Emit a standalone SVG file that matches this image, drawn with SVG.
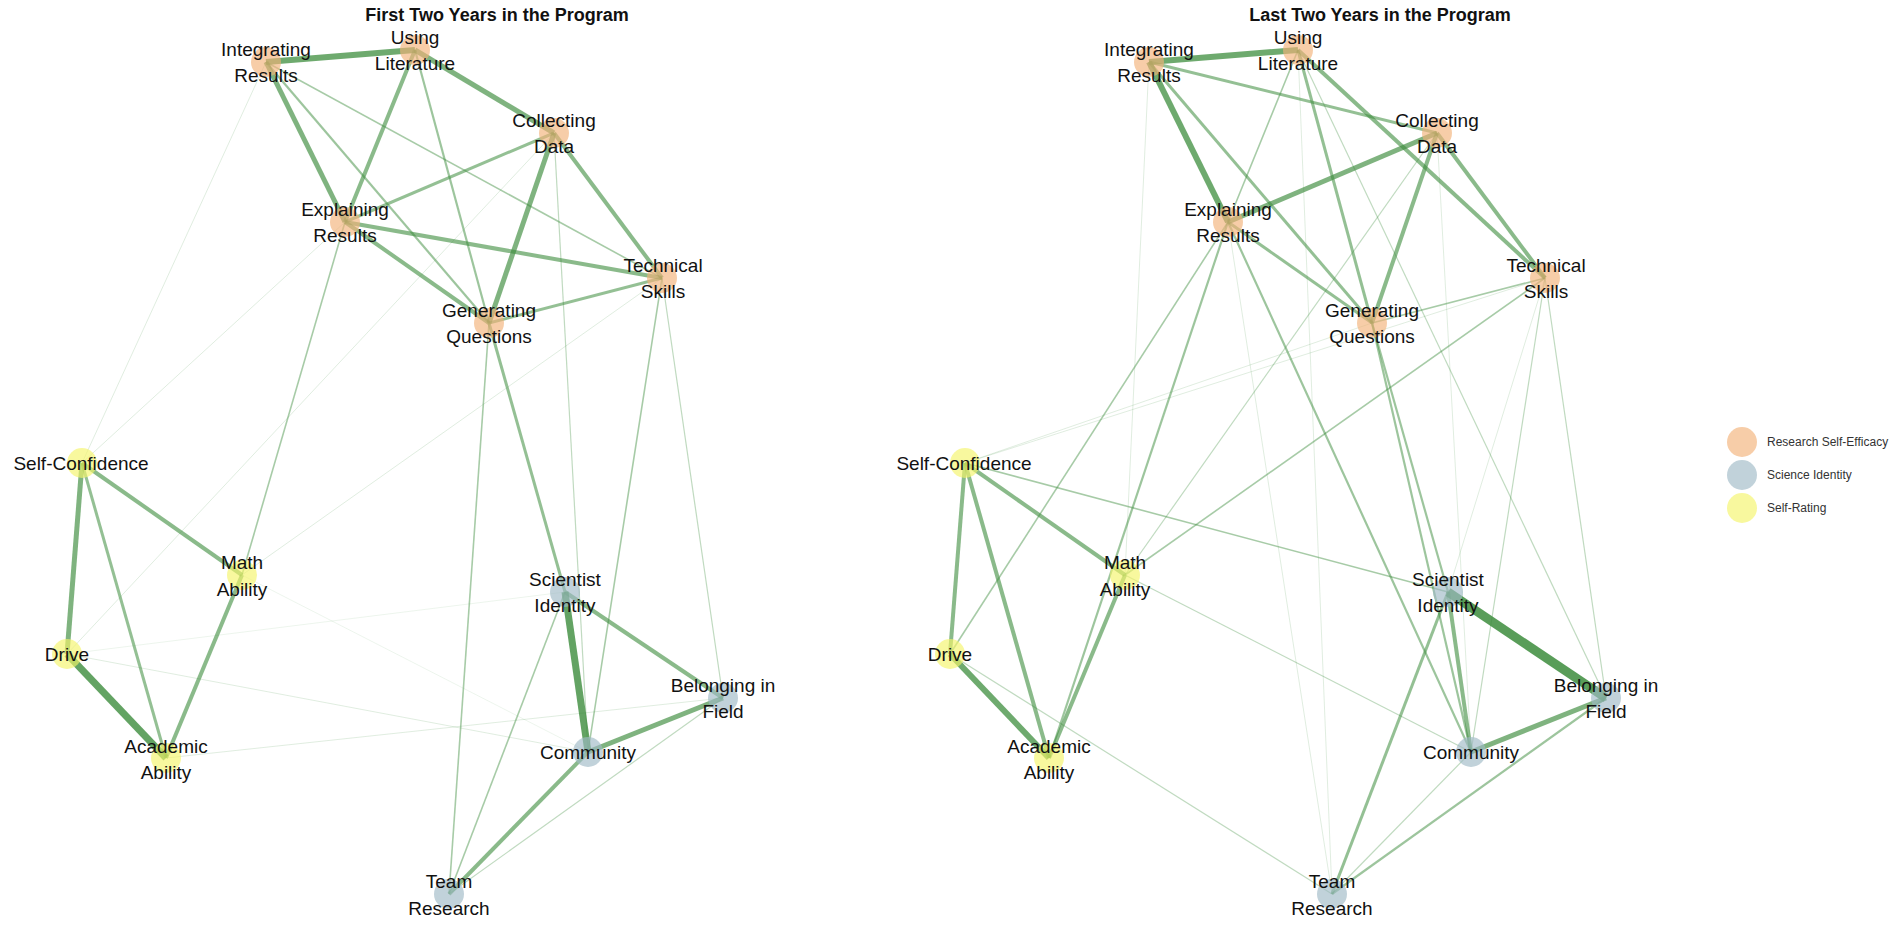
<svg xmlns="http://www.w3.org/2000/svg" width="1902" height="926" viewBox="0 0 1902 926">
<style>
text{font-family:"Liberation Sans",Arial,sans-serif;fill:#111;text-anchor:middle}
.lbl{font-size:19px}
.title{font-size:18px;font-weight:bold}
.leg{font-size:12px;fill:#333;text-anchor:start}
line{stroke:#3c8c3c;stroke-linecap:butt}
.e9{stroke-width:9;stroke-opacity:.85}
.e7{stroke-width:7;stroke-opacity:.8}
.e6{stroke-width:6;stroke-opacity:.74}
.e5{stroke-width:5;stroke-opacity:.66}
.e4{stroke-width:4;stroke-opacity:.6}
.e3{stroke-width:3;stroke-opacity:.55}
.e2{stroke-width:2.2;stroke-opacity:.5}
.e15{stroke-width:1.6;stroke-opacity:.45}
.e1{stroke-width:1.2;stroke-opacity:.32}
.ef{stroke-width:1;stroke-opacity:.16}
.eff{stroke-width:1;stroke-opacity:.09}
.rse circle{fill:#f2b27a;fill-opacity:.65}
.sid circle{fill:#9fbac6;fill-opacity:.65}
.srt circle{fill:#f5f46a;fill-opacity:.65}
</style>
<rect width="1902" height="926" fill="#fff"/>
<text class="title" x="497" y="21">First Two Years in the Program</text>
<text class="title" x="1380" y="21">Last Two Years in the Program</text>
<g id="connectors">
<g id="edges-left">
<line class="e6" x1="266" y1="62" x2="415" y2="50"/>
<line class="e5" x1="415" y1="50" x2="554" y2="133"/>
<line class="e5" x1="266" y1="62" x2="345" y2="222"/>
<line class="e4" x1="415" y1="50" x2="345" y2="222"/>
<line class="e5" x1="554" y1="133" x2="489" y2="323"/>
<line class="e2" x1="415" y1="50" x2="489" y2="323"/>
<line class="e2" x1="266" y1="62" x2="489" y2="323"/>
<line class="e15" x1="266" y1="62" x2="662" y2="278"/>
<line class="e3" x1="554" y1="133" x2="345" y2="222"/>
<line class="e4" x1="554" y1="133" x2="662" y2="278"/>
<line class="e4" x1="345" y1="222" x2="662" y2="278"/>
<line class="e4" x1="345" y1="222" x2="489" y2="323"/>
<line class="e3" x1="489" y1="323" x2="662" y2="278"/>
<line class="ef" x1="266" y1="62" x2="82" y2="463"/>
<line class="ef" x1="345" y1="222" x2="82" y2="463"/>
<line class="e15" x1="345" y1="222" x2="242" y2="575"/>
<line class="ef" x1="554" y1="133" x2="67" y2="654"/>
<line class="ef" x1="662" y1="278" x2="242" y2="575"/>
<line class="e15" x1="489" y1="323" x2="449" y2="894"/>
<line class="e3" x1="489" y1="323" x2="565" y2="592"/>
<line class="e1" x1="554" y1="133" x2="588" y2="752"/>
<line class="e15" x1="662" y1="278" x2="588" y2="752"/>
<line class="e1" x1="662" y1="278" x2="723" y2="698"/>
<line class="e5" x1="82" y1="463" x2="67" y2="654"/>
<line class="e3" x1="82" y1="463" x2="166" y2="758"/>
<line class="e4" x1="82" y1="463" x2="242" y2="575"/>
<line class="e7" x1="67" y1="654" x2="166" y2="758"/>
<line class="e4" x1="242" y1="575" x2="166" y2="758"/>
<line class="e7" x1="565" y1="592" x2="588" y2="752"/>
<line class="e4" x1="565" y1="592" x2="723" y2="698"/>
<line class="e5" x1="588" y1="752" x2="723" y2="698"/>
<line class="e4" x1="588" y1="752" x2="449" y2="894"/>
<line class="e1" x1="723" y1="698" x2="449" y2="894"/>
<line class="e15" x1="565" y1="592" x2="449" y2="894"/>
<line class="ef" x1="67" y1="654" x2="588" y2="752"/>
<line class="ef" x1="166" y1="758" x2="723" y2="698"/>
<line class="eff" x1="67" y1="654" x2="565" y2="592"/>
<line class="eff" x1="242" y1="575" x2="588" y2="752"/>
</g>
<g id="edges-right">
<line class="e6" x1="1149" y1="62" x2="1298" y2="50"/>
<line class="e6" x1="1149" y1="62" x2="1228" y2="222"/>
<line class="e3" x1="1149" y1="62" x2="1437" y2="133"/>
<line class="e3" x1="1149" y1="62" x2="1372" y2="323"/>
<line class="e4" x1="1298" y1="50" x2="1545" y2="278"/>
<line class="e3" x1="1298" y1="50" x2="1372" y2="323"/>
<line class="e15" x1="1298" y1="50" x2="1228" y2="222"/>
<line class="e5" x1="1437" y1="133" x2="1228" y2="222"/>
<line class="e4" x1="1437" y1="133" x2="1372" y2="323"/>
<line class="e4" x1="1437" y1="133" x2="1545" y2="278"/>
<line class="e3" x1="1228" y1="222" x2="1372" y2="323"/>
<line class="e15" x1="1372" y1="323" x2="1545" y2="278"/>
<line class="e4" x1="965" y1="463" x2="950" y2="654"/>
<line class="e4" x1="965" y1="463" x2="1049" y2="758"/>
<line class="e4" x1="965" y1="463" x2="1125" y2="575"/>
<line class="e6" x1="950" y1="654" x2="1049" y2="758"/>
<line class="e4" x1="1125" y1="575" x2="1049" y2="758"/>
<line class="e2" x1="1228" y1="222" x2="1049" y2="758"/>
<line class="e15" x1="1228" y1="222" x2="950" y2="654"/>
<line class="e2" x1="1228" y1="222" x2="1471" y2="752"/>
<line class="e15" x1="965" y1="463" x2="1448" y2="592"/>
<line class="ef" x1="965" y1="463" x2="1372" y2="323"/>
<line class="ef" x1="965" y1="463" x2="1545" y2="278"/>
<line class="e15" x1="1125" y1="575" x2="1545" y2="278"/>
<line class="e1" x1="1437" y1="133" x2="1125" y2="575"/>
<line class="e1" x1="1125" y1="575" x2="1471" y2="752"/>
<line class="e1" x1="950" y1="654" x2="1332" y2="894"/>
<line class="ef" x1="1149" y1="62" x2="1125" y2="575"/>
<line class="ef" x1="1298" y1="50" x2="1332" y2="894"/>
<line class="e1" x1="1298" y1="50" x2="1606" y2="698"/>
<line class="ef" x1="1228" y1="222" x2="1332" y2="894"/>
<line class="e1" x1="1545" y1="278" x2="1606" y2="698"/>
<line class="e1" x1="1545" y1="278" x2="1471" y2="752"/>
<line class="ef" x1="1545" y1="278" x2="1448" y2="592"/>
<line class="ef" x1="1437" y1="133" x2="1471" y2="752"/>
<line class="e9" x1="1448" y1="592" x2="1606" y2="698"/>
<line class="e4" x1="1448" y1="592" x2="1471" y2="752"/>
<line class="e5" x1="1471" y1="752" x2="1606" y2="698"/>
<line class="e3" x1="1448" y1="592" x2="1332" y2="894"/>
<line class="e2" x1="1606" y1="698" x2="1332" y2="894"/>
<line class="e1" x1="1471" y1="752" x2="1332" y2="894"/>
<line class="e2" x1="1372" y1="323" x2="1448" y2="592"/>
<line class="e2" x1="1372" y1="323" x2="1471" y2="752"/>
</g>
</g>
<g id="nodes-left">
<g id="l-integrating-results" class="rse"><circle cx="266" cy="62" r="15"/><text class="lbl" x="266" y="56">Integrating</text><text class="lbl" x="266" y="82">Results</text></g>
<g id="l-using-literature" class="rse"><circle cx="415" cy="50" r="15"/><text class="lbl" x="415" y="44">Using</text><text class="lbl" x="415" y="70">Literature</text></g>
<g id="l-collecting-data" class="rse"><circle cx="554" cy="133" r="15"/><text class="lbl" x="554" y="127">Collecting</text><text class="lbl" x="554" y="153">Data</text></g>
<g id="l-explaining-results" class="rse"><circle cx="345" cy="222" r="15"/><text class="lbl" x="345" y="216">Explaining</text><text class="lbl" x="345" y="242">Results</text></g>
<g id="l-technical-skills" class="rse"><circle cx="662" cy="278" r="15"/><text class="lbl" x="663" y="272">Technical</text><text class="lbl" x="663" y="298">Skills</text></g>
<g id="l-generating-questions" class="rse"><circle cx="489" cy="323" r="15"/><text class="lbl" x="489" y="317">Generating</text><text class="lbl" x="489" y="343">Questions</text></g>
<g id="l-self-confidence" class="srt"><circle cx="82" cy="463" r="15"/><text class="lbl" x="81" y="470">Self-Confidence</text></g>
<g id="l-math-ability" class="srt"><circle cx="242" cy="575" r="15"/><text class="lbl" x="242" y="569">Math</text><text class="lbl" x="242" y="596">Ability</text></g>
<g id="l-drive" class="srt"><circle cx="67" cy="654" r="15"/><text class="lbl" x="67" y="661">Drive</text></g>
<g id="l-academic-ability" class="srt"><circle cx="166" cy="758" r="15"/><text class="lbl" x="166" y="753">Academic</text><text class="lbl" x="166" y="779">Ability</text></g>
<g id="l-scientist-identity" class="sid"><circle cx="565" cy="592" r="15"/><text class="lbl" x="565" y="586">Scientist</text><text class="lbl" x="565" y="612">Identity</text></g>
<g id="l-belonging-in-field" class="sid"><circle cx="723" cy="698" r="15"/><text class="lbl" x="723" y="692">Belonging in</text><text class="lbl" x="723" y="718">Field</text></g>
<g id="l-community" class="sid"><circle cx="588" cy="752" r="15"/><text class="lbl" x="588" y="759">Community</text></g>
<g id="l-team-research" class="sid"><circle cx="449" cy="894" r="15"/><text class="lbl" x="449" y="888">Team</text><text class="lbl" x="449" y="915">Research</text></g>
</g>
<g id="nodes-right">
<g id="r-integrating-results" class="rse"><circle cx="1149" cy="62" r="15"/><text class="lbl" x="1149" y="56">Integrating</text><text class="lbl" x="1149" y="82">Results</text></g>
<g id="r-using-literature" class="rse"><circle cx="1298" cy="50" r="15"/><text class="lbl" x="1298" y="44">Using</text><text class="lbl" x="1298" y="70">Literature</text></g>
<g id="r-collecting-data" class="rse"><circle cx="1437" cy="133" r="15"/><text class="lbl" x="1437" y="127">Collecting</text><text class="lbl" x="1437" y="153">Data</text></g>
<g id="r-explaining-results" class="rse"><circle cx="1228" cy="222" r="15"/><text class="lbl" x="1228" y="216">Explaining</text><text class="lbl" x="1228" y="242">Results</text></g>
<g id="r-technical-skills" class="rse"><circle cx="1545" cy="278" r="15"/><text class="lbl" x="1546" y="272">Technical</text><text class="lbl" x="1546" y="298">Skills</text></g>
<g id="r-generating-questions" class="rse"><circle cx="1372" cy="323" r="15"/><text class="lbl" x="1372" y="317">Generating</text><text class="lbl" x="1372" y="343">Questions</text></g>
<g id="r-self-confidence" class="srt"><circle cx="965" cy="463" r="15"/><text class="lbl" x="964" y="470">Self-Confidence</text></g>
<g id="r-math-ability" class="srt"><circle cx="1125" cy="575" r="15"/><text class="lbl" x="1125" y="569">Math</text><text class="lbl" x="1125" y="596">Ability</text></g>
<g id="r-drive" class="srt"><circle cx="950" cy="654" r="15"/><text class="lbl" x="950" y="661">Drive</text></g>
<g id="r-academic-ability" class="srt"><circle cx="1049" cy="758" r="15"/><text class="lbl" x="1049" y="753">Academic</text><text class="lbl" x="1049" y="779">Ability</text></g>
<g id="r-scientist-identity" class="sid"><circle cx="1448" cy="592" r="15"/><text class="lbl" x="1448" y="586">Scientist</text><text class="lbl" x="1448" y="612">Identity</text></g>
<g id="r-belonging-in-field" class="sid"><circle cx="1606" cy="698" r="15"/><text class="lbl" x="1606" y="692">Belonging in</text><text class="lbl" x="1606" y="718">Field</text></g>
<g id="r-community" class="sid"><circle cx="1471" cy="752" r="15"/><text class="lbl" x="1471" y="759">Community</text></g>
<g id="r-team-research" class="sid"><circle cx="1332" cy="894" r="15"/><text class="lbl" x="1332" y="888">Team</text><text class="lbl" x="1332" y="915">Research</text></g>
</g>
<g id="legend">
<g class="rse"><circle cx="1742" cy="442" r="15"/></g>
<text class="leg" x="1767" y="446">Research Self-Efficacy</text>
<g class="sid"><circle cx="1742" cy="475" r="15"/></g>
<text class="leg" x="1767" y="479">Science Identity</text>
<g class="srt"><circle cx="1742" cy="508" r="15"/></g>
<text class="leg" x="1767" y="512">Self-Rating</text>
</g>
</svg>
